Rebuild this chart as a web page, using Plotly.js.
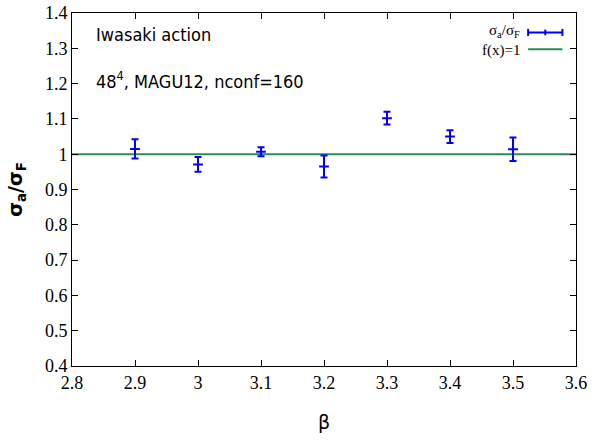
<!DOCTYPE html>
<html>
<head>
<meta charset="utf-8">
<script src="https://cdn.plot.ly/plotly-3.0.1.min.js"></script>
<style>html,body{margin:0;padding:0;background:#fff;}#chart{width:594px;height:440px;}</style>
</head>
<body>
<div id="chart"></div>
<script>
// Data
const beta = [2.9, 3.0, 3.1, 3.2, 3.3, 3.4, 3.5];
const ratio = [1.015, 0.971, 1.007, 0.965, 1.102, 1.050, 1.014];
const ratioErr = [0.027, 0.021, 0.013, 0.031, 0.018, 0.018, 0.033];
const fitX = [2.8, 3.6];
const fitY = [1, 1];
const xTicks = [2.8, 2.9, 3.0, 3.1, 3.2, 3.3, 3.4, 3.5, 3.6];
const xTickText = ['2.8', '2.9', '3', '3.1', '3.2', '3.3', '3.4', '3.5', '3.6'];
const yTicks = [0.4, 0.5, 0.6, 0.7, 0.8, 0.9, 1.0, 1.1, 1.2, 1.3, 1.4];
const yTickText = ['0.4', '0.5', '0.6', '0.7', '0.8', '0.9', '1', '1.1', '1.2', '1.3', '1.4'];

const blue = '#0000ff';
const green = '#2e8b57';
const serif = "Liberation Serif";
const sans = "'DejaVu Sans Condensed', 'Liberation Sans', sans-serif";

const traces = [
  {
    x: fitX, y: fitY, mode: 'lines', type: 'scatter',
    line: {color: green, width: 2}, hoverinfo: 'skip', showlegend: false
  },
  {
    x: beta, y: ratio, mode: 'markers', type: 'scatter',
    marker: {symbol: 'cross-thin-open', size: 7, color: blue, line: {color: blue, width: 2}},
    error_y: {type: 'data', array: ratioErr, visible: true, color: blue, thickness: 2, width: 3.5},
    showlegend: false
  }
];

const layout = {
  width: 594, height: 440,
  margin: {l: 72, r: 18, t: 13, b: 74},
  paper_bgcolor: '#fff', plot_bgcolor: '#fff',
  showlegend: false,
  font: {family: serif, size: 18, color: '#000'},
  xaxis: {
    range: [2.8, 3.6], tickvals: xTicks, ticktext: xTickText,
    ticks: 'inside', ticklen: 6, tickcolor: '#000', showline: true, linecolor: '#000', linewidth: 1,
    mirror: 'ticks', showgrid: false, zeroline: false,
    tickfont: {family: serif, size: 18},
    title: {text: 'β', font: {family: 'DejaVu Sans, sans-serif', size: 19}, standoff: 24}
  },
  yaxis: {
    range: [0.4, 1.4], tickvals: yTicks, ticktext: yTickText,
    ticks: 'inside', ticklen: 6, tickcolor: '#000', showline: true, linecolor: '#000', linewidth: 1,
    mirror: 'ticks', showgrid: false, zeroline: false,
    tickfont: {family: serif, size: 18},
    title: {text: '<b>σ<sub>a</sub>/σ<sub>F</sub></b>', font: {family: 'DejaVu Sans, sans-serif', size: 19}, standoff: 17}
  },
  annotations: [
    {xref: 'paper', yref: 'paper', x: 0.043, y: 0.938, xanchor: 'left', yanchor: 'middle', showarrow: false,
     text: 'Iwasaki action', font: {family: sans, size: 18}},
    {xref: 'paper', yref: 'paper', x: 0.043, y: 0.81, xanchor: 'left', yanchor: 'middle', showarrow: false,
     text: '48<sup>4</sup>, MAGU12, nconf=160', font: {family: sans, size: 18}},
    {xref: 'paper', yref: 'paper', x: 0.893, y: 0.95, xanchor: 'right', yanchor: 'middle', showarrow: false,
     text: 'σ<sub>a</sub>/σ<sub>F</sub>', font: {family: serif, size: 15}},
    {xref: 'paper', yref: 'paper', x: 0.893, y: 0.895, xanchor: 'right', yanchor: 'middle', showarrow: false,
     text: 'f(x)=1', font: {family: serif, size: 15}}
  ],
  shapes: [
    {type: 'line', xref: 'paper', yref: 'paper', x0: 0.905, x1: 0.973, y0: 0.945, y1: 0.945, line: {color: blue, width: 2}},
    {type: 'line', xref: 'paper', yref: 'paper', x0: 0.905, x1: 0.905, y0: 0.935, y1: 0.955, line: {color: blue, width: 2}},
    {type: 'line', xref: 'paper', yref: 'paper', x0: 0.973, x1: 0.973, y0: 0.935, y1: 0.955, line: {color: blue, width: 2}},
    {type: 'line', xref: 'paper', yref: 'paper', x0: 0.939, x1: 0.939, y0: 0.937, y1: 0.953, line: {color: blue, width: 2}},
    {type: 'line', xref: 'paper', yref: 'paper', x0: 0.905, x1: 0.973, y0: 0.897, y1: 0.897, line: {color: green, width: 2}}
  ]
};

Plotly.newPlot('chart', traces, layout, {displayModeBar: false, staticPlot: true});
</script>
</body>
</html>
